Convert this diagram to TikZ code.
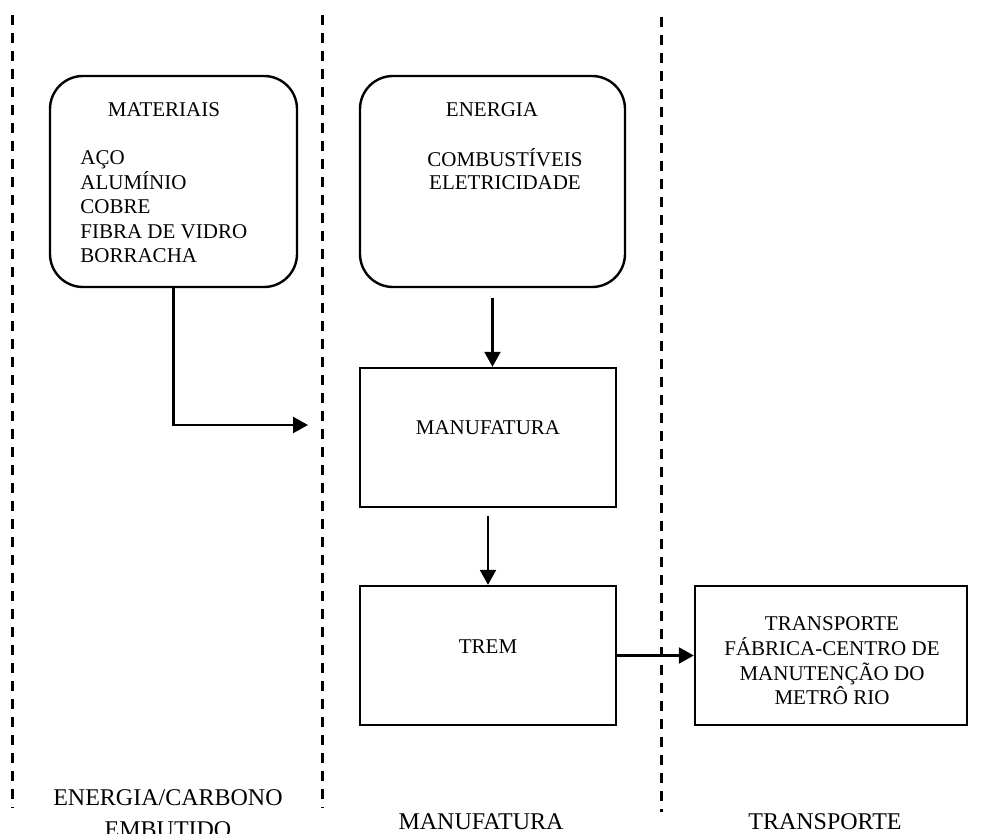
\documentclass[tikz,border=0pt]{standalone}
\usepackage{fontspec}
\setmainfont{Liberation Serif}
\usetikzlibrary{arrows.meta}
\begin{document}
\begin{tikzpicture}[x=0.5pt,y=-0.5pt,
  rbox/.style={draw, line width=1.2pt, rounded corners=16.5pt, inner sep=0pt},
  sbox/.style={draw, line width=1.2pt, inner sep=0pt},
  txt/.style={inner sep=0pt, font=\fontsize{10.5}{12}\selectfont},
  lbl/.style={inner sep=0pt, font=\fontsize{12}{14}\selectfont},
  arr/.style={line width=1.2pt, -{Triangle[length=7.5pt,width=8pt]}},
  sep/.style={line width=1.5pt, dash pattern=on 5pt off 4pt}]
\useasboundingbox (0,0) rectangle (985,834);
% separators
\coordinate (d1t) at (12,15);  \coordinate (d1b) at (12,808);
\coordinate (d2t) at (322,15); \coordinate (d2b) at (322,808);
\coordinate (d3t) at (661,17); \coordinate (d3b) at (661,812);
\draw[sep] (d1t) -- (d1b);
\draw[sep] (d2t) -- (d2b);
\draw[sep] (d3t) -- (d3b);
% boxes
\node[rbox, minimum width=123.5pt, minimum height=105.5pt] (mat) at (173.5,181.5) {};
\node[rbox, minimum width=132.5pt, minimum height=105.5pt] (ene) at (492.5,181.5) {};
\node[sbox, minimum width=128pt, minimum height=69.5pt] (man) at (488,437.5) {};
\node[sbox, minimum width=128pt, minimum height=69.5pt] (trem) at (488,655.5) {};
\node[sbox, minimum width=136pt, minimum height=69.5pt] (trans) at (831,655.5) {};
% texts in boxes
\node[txt, anchor=base] (tmat) at (164,117) {MATERIAIS};
\node[txt, anchor=base west] (m1) at (80,165) {AÇO};
\node[txt, anchor=base west] (m2) at (80,189.5) {ALUMÍNIO};
\node[txt, anchor=base west] (m3) at (80,214) {COBRE};
\node[txt, anchor=base west] (m4) at (80,238.5) {FIBRA DE VIDRO};
\node[txt, anchor=base west] (m5) at (80,263) {BORRACHA};
\node[txt, anchor=base] (tene) at (492,117) {ENERGIA};
\node[txt, anchor=base] (e1) at (505,167) {COMBUSTÍVEIS};
\node[txt, anchor=base] (e2) at (505,190) {ELETRICIDADE};
\node[txt, anchor=base] (tman) at (488,434) {MANUFATURA};
\node[txt, anchor=base] (ttrem) at (488,653) {TREM};
\node[txt, anchor=base] (r1) at (832,630) {TRANSPORTE};
\node[txt, anchor=base] (r2) at (832,655) {FÁBRICA-CENTRO DE};
\node[txt, anchor=base] (r3) at (832,680) {MANUTENÇÃO DO};
\node[txt, anchor=base] (r4) at (832,704) {METRÔ RIO};
% bottom labels
\node[lbl, anchor=base] (l1) at (168,805) {ENERGIA/CARBONO};
\node[lbl, anchor=base] (l1b) at (168,837) {EMBUTIDO};
\node[lbl, anchor=base] (l2) at (481,829) {MANUFATURA};
\node[lbl, anchor=base] (l3) at (825,829) {TRANSPORTE};
% connectors
\coordinate (matend) at (308,425);
\draw[arr] (mat.south) |- (matend);
\draw[arr] ([yshift=-5pt]ene.south) -- (ene.south |- man.north);
\draw[arr] ([yshift=-4pt]man.south) -- (trem.north);
\draw[arr] (trem.east) -- (trans.west);
\end{tikzpicture}
\end{document}
